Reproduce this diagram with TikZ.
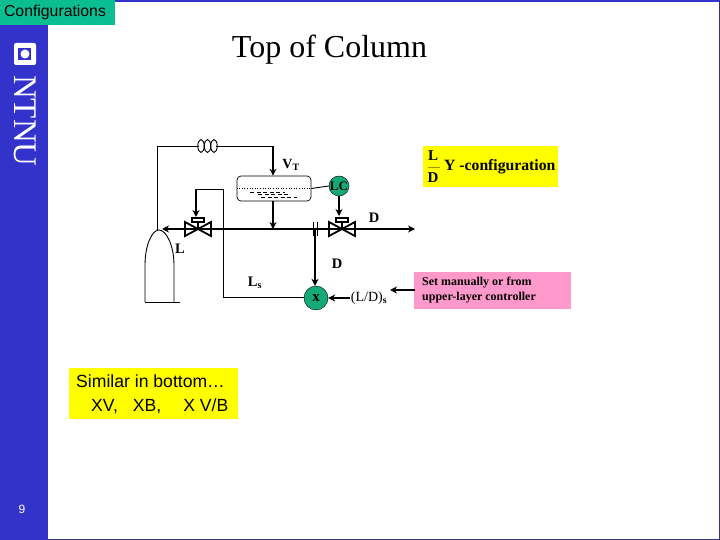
\documentclass[tikz,border=0pt]{standalone}
\usepackage{fontspec}
\setmainfont{Liberation Serif}
\setsansfont{Liberation Sans}
\usetikzlibrary{arrows.meta}
\definecolor{ntnublue}{RGB}{51,51,204}
\definecolor{framedark}{RGB}{60,50,130}
\definecolor{slidegreen}{RGB}{10,190,145}
\definecolor{lcgreen}{RGB}{20,170,120}
\definecolor{notepink}{RGB}{255,153,204}
\definecolor{noteyellow}{RGB}{255,255,0}
\tikzset{
  >={Stealth[length=7pt,width=7pt]},
  proc/.style={line width=1.9pt},
  sig/.style={line width=0.9pt},
  lbl/.style={font=\bfseries\fontsize{14.5}{14.5}\selectfont, inner sep=0pt},
  ctrl/.style={circle, draw=black, fill=lcgreen, inner sep=0pt, minimum size=18pt},
  ctrlvalve/.pic={
    \draw[line width=1.8pt] (-13,-7) -- (13,7) -- (13,-7) -- (-13,7) -- cycle;
    \draw[line width=1.8pt] (0,0) -- (0,-7);
    \draw[line width=1.8pt, fill=white] (-6,-11) rectangle (6,-7);
  }
}
\begin{document}
\begin{tikzpicture}[x=1pt,y=-1pt]
\useasboundingbox (0,0) rectangle (720,540);
\fill[white] (0,0) rectangle (720,540);
\fill[ntnublue] (0,0) rectangle (48,540);
\fill[ntnublue] (0,0) rectangle (720,2);
\fill[framedark] (0,538.5) rectangle (720,540);
\fill[framedark] (719,0) rectangle (720,540);
\fill[ntnublue] (0,538.5) rectangle (48,540);
\fill[slidegreen] (0,0) rectangle (115,25);
\node[font=\sffamily\fontsize{15.8}{16}\selectfont, inner sep=0pt] (config) at (55,12) {Configurations};
\node[font=\fontsize{32}{32}\selectfont, inner sep=0pt] (title) at (329.5,50) {Top of Column};
\fill[white, rounded corners=2pt] (14,43) rectangle (36,65);
\fill[ntnublue] (18,48) rectangle (31,60);
\fill[white] (25,54) circle (4.5);
\node[white, rotate=-90, font=\fontsize{33}{33}\selectfont, inner sep=0pt] (ntnu) at (25,121) {NTNU};
\node[white, font=\sffamily\fontsize{12}{12}\selectfont, inner sep=0pt] (page) at (22,509) {9};

\fill[noteyellow] (423,146) rectangle (558,187);
\node[font=\bfseries\fontsize{15}{15}\selectfont, inner sep=0pt] (fracL) at (433,156) {L};
\node[font=\bfseries\fontsize{15}{15}\selectfont, inner sep=0pt] (fracD) at (433,178) {D};
\draw[black!40!noteyellow, line width=0.6pt] (428,167) -- (440,167);
\node[font=\bfseries\fontsize{15.7}{16}\selectfont, inner sep=0pt, anchor=west] (yconf) at (444,167) {Y -configuration};

\node[fill=notepink, minimum width=157pt, minimum height=37pt, inner sep=0pt] (pink) at (492.5,290.5) {};
\node[font=\bfseries\fontsize{12}{15}\selectfont, inner sep=0pt, anchor=west, align=left] (pinktext) at (422,290.5) {Set manually or from\\upper-layer controller};

\node[fill=noteyellow, minimum width=169pt, minimum height=51pt, inner sep=0pt] (bottombox) at (153.5,393.5) {};
\node[font=\sffamily\fontsize{17.6}{24}\selectfont, inner sep=0pt, anchor=west, align=left] (bottomtext) at (76,394) {Similar in bottom\dots\\\hspace*{15pt}XV,\hspace{15pt}XB,\hspace{22pt}X V/B};

\node[draw=black, line width=0.7pt, rounded corners=4pt, minimum width=74pt, minimum height=25pt, inner sep=0pt] (drum) at (274,188.5) {};
\draw[dotted, line width=0.6pt] (drum.west) -- (drum.east);
\draw[dash pattern=on 4pt off 2.5pt, line width=0.5pt] (250,192) -- (285,192);
\draw[dash pattern=on 4pt off 2.5pt, line width=0.5pt] (258,194.5) -- (288,194.5);
\draw[dash pattern=on 4pt off 2.5pt, line width=0.5pt] (261,197) -- (297,197);

\node[ctrl, font=\bfseries\fontsize{13}{13}\selectfont] (LC) at (339,186) {LC};
\node[ctrl, minimum size=24pt, font=\bfseries\fontsize{15}{15}\selectfont] (X) at (316,298) {x};

\coordinate (valveL) at (198,229);
\coordinate (valveD) at (342,229);
\coordinate (refluxend) at (162,229);
\coordinate (distend) at (415,229);
\coordinate (junction) at (273,229);
\coordinate (splitD) at (315,229);
\coordinate (condleft) at (157,146);
\coordinate (condright) at (273,146);
\coordinate (condtop) at (157,230);
\coordinate (setfrom) at (415,290);
\coordinate (setto) at (390,290);
\coordinate (sigcorner) at (223,189);
\coordinate (sigtop) at (196,189);
\coordinate (sigbottom) at (223,297);

\pic at (valveL) {ctrlvalve};
\pic at (valveD) {ctrlvalve};

\draw[sig] (condtop) -- (condleft) -- (condright);
\draw[proc,->] (condright) -- (drum.north -| condright);
\draw[white, line width=2pt] (199,146) -- (216,146);
\foreach \cx in {201,207.5,214} {
  \draw[sig] (\cx,146) ellipse (3.2 and 6.5);
}
\draw[proc,->] (drum.south -| junction) -- (junction);
\draw[proc,->] (splitD) -- (refluxend);
\draw[proc,->] (splitD) -- (distend);
\draw[sig] (drum.east) -- (LC.west);
\draw[proc,->] (LC.south) -- (339,216);
\draw[proc,->] (sigtop) -- (196,217);
\draw[sig] (sigtop) -- (sigcorner) -- (sigbottom) -- (X.west |- sigbottom);
\draw[proc,->] (splitD) -- (X.north -| splitD);
\draw[sig] (313,222) -- (313,236);
\draw[sig] (317,222) -- (317,236);
\draw[proc,->] (350,298) -- (X.east);
\draw[proc,->] (setfrom) -- (setto);

\draw[sig] (145,302) -- (180,302);
\draw[sig] (145,302) -- (145,265) .. controls (145,245) and (152,230) .. (159,230) .. controls (166,230) and (174,245) .. (174,265) -- (174,302);

\node[lbl, font=\bfseries\fontsize{14}{14}\selectfont] (VT) at (291,165) {V$_{\mathbf{T}}$};
\node[lbl] (Dtop) at (374,218) {D};
\node[lbl] (Lrefl) at (180,249) {L};
\node[lbl] (Dmeas) at (337,264) {D};
\node[lbl] (Ls) at (255,283) {L$_{\mathbf{s}}$};
\node[lbl, font=\fontsize{14}{14}\selectfont] (ratio) at (369,298) {(L/D)$_{\mathbf{s}}$};
\end{tikzpicture}
\end{document}
